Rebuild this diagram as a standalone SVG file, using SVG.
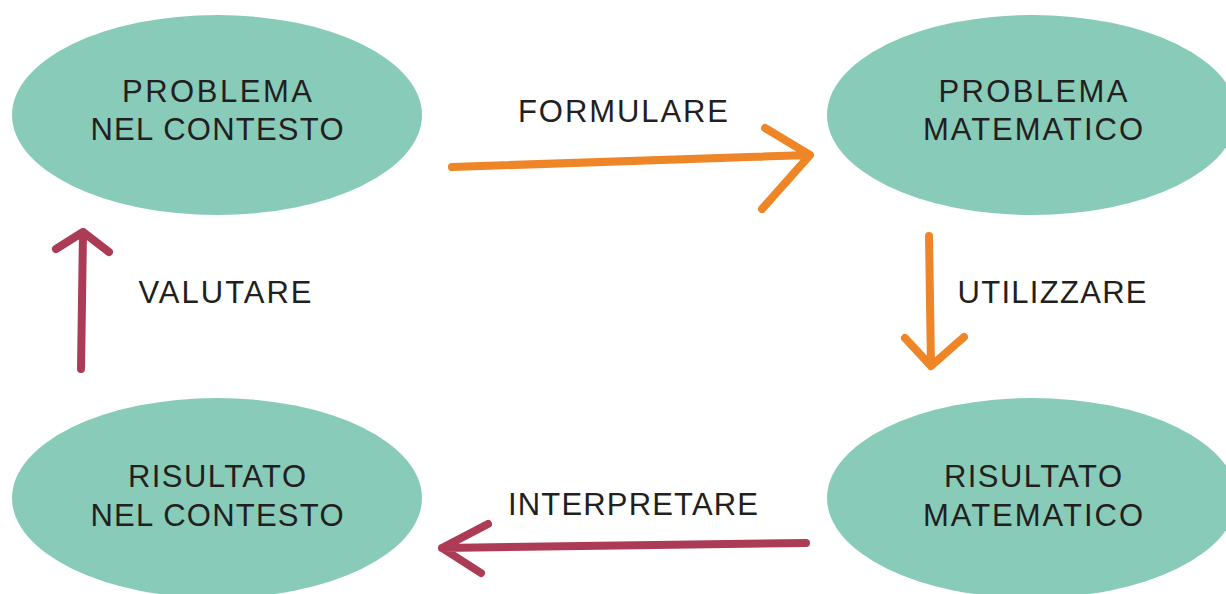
<svg xmlns="http://www.w3.org/2000/svg" width="1226" height="594" viewBox="0 0 1226 594">
<style>
.node{fill:#88CBB9}
.t{font-family:"Liberation Sans",Arial,sans-serif;font-size:31px;fill:#231F20;text-anchor:middle}
.o{stroke:#EE8526;stroke-width:8;fill:none;stroke-linecap:round;stroke-linejoin:round}
.m{stroke:#AC3B55;stroke-width:8;fill:none;stroke-linecap:round;stroke-linejoin:round}
</style>
<rect width="1226" height="594" fill="#fff"/>
<g id="n1">
<ellipse class="node" cx="217" cy="115" rx="205" ry="100"/>
<text class="t" x="217" y="102" textLength="190" lengthAdjust="spacing">PROBLEMA</text>
<text class="t" x="217" y="140" textLength="253" lengthAdjust="spacing">NEL CONTESTO</text>
</g>
<g id="n2">
<ellipse class="node" cx="1032" cy="115" rx="205" ry="100"/>
<text class="t" x="1033" y="102" textLength="189" lengthAdjust="spacing">PROBLEMA</text>
<text class="t" x="1033" y="140" textLength="220" lengthAdjust="spacing">MATEMATICO</text>
</g>
<g id="n3">
<ellipse class="node" cx="1032" cy="498" rx="205" ry="100"/>
<text class="t" x="1033" y="487" textLength="178" lengthAdjust="spacing">RISULTATO</text>
<text class="t" x="1033" y="526" textLength="220" lengthAdjust="spacing">MATEMATICO</text>
</g>
<g id="n4">
<ellipse class="node" cx="217" cy="498" rx="205" ry="100"/>
<text class="t" x="217" y="487" textLength="178" lengthAdjust="spacing">RISULTATO</text>
<text class="t" x="217" y="526" textLength="253" lengthAdjust="spacing">NEL CONTESTO</text>
</g>
<g id="connectors">
<path class="o" d="M452 167 L810 155 M765 128 L810 155 L762 209"/>
<path class="o" d="M929 236 L931 366 M905 338 L931 366 L964 337"/>
<path class="m" d="M806 543 L442 548 M488 524 L442 548 L481 573"/>
<path class="m" d="M81 369 L83 232 M56 249 L83 232 L109 252"/>
</g>
<g id="labels">
<text class="t" x="623" y="122" textLength="210" lengthAdjust="spacing">FORMULARE</text>
<text class="t" x="1052" y="303" textLength="189" lengthAdjust="spacing">UTILIZZARE</text>
<text class="t" x="633" y="515" textLength="250" lengthAdjust="spacing">INTERPRETARE</text>
<text class="t" x="225" y="303" textLength="173" lengthAdjust="spacing">VALUTARE</text>
</g>
</svg>
